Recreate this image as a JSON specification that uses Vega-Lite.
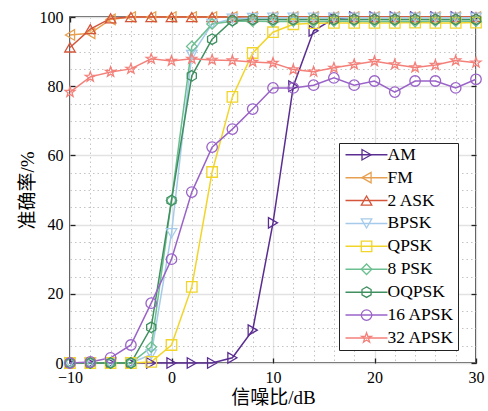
{
  "$schema": "https://vega.github.io/schema/vega-lite/v6.json",
  "width": 406,
  "height": 346,
  "autosize": {"type": "none"},
  "padding": {"left": 70, "top": 17, "right": 12, "bottom": 48},
  "background": "white",
  "config": {
    "font": "Liberation Serif, Noto Sans CJK SC",
    "view": {"stroke": "#222222", "strokeWidth": 1.6},
    "axis": {
      "labelFont": "Liberation Serif, Noto Sans CJK SC",
      "titleFont": "Liberation Serif, Noto Sans CJK SC",
      "labelFontSize": 16,
      "titleFontSize": 19,
      "titleFontWeight": "normal",
      "labelColor": "black",
      "titleColor": "black",
      "labelFlush": false
    },
    "legend": {
      "labelFont": "Liberation Serif, Noto Sans CJK SC",
      "labelFontSize": 17.5,
      "labelColor": "black"
    }
  },
  "data": {
    "values": [
      {"s":"AM","x":-10,"y":0},{"s":"AM","x":-8,"y":0},{"s":"AM","x":-6,"y":0},{"s":"AM","x":-4,"y":0},{"s":"AM","x":-2,"y":0},{"s":"AM","x":0,"y":0},{"s":"AM","x":2,"y":0},{"s":"AM","x":4,"y":0},{"s":"AM","x":6,"y":1.5},{"s":"AM","x":8,"y":9.5},{"s":"AM","x":10,"y":40.5},{"s":"AM","x":12,"y":80},{"s":"AM","x":14,"y":96},{"s":"AM","x":16,"y":99.5},{"s":"AM","x":18,"y":100},{"s":"AM","x":20,"y":100},{"s":"AM","x":22,"y":100},{"s":"AM","x":24,"y":100},{"s":"AM","x":26,"y":100},{"s":"AM","x":28,"y":100},{"s":"AM","x":30,"y":100},
      {"s":"FM","x":-10,"y":94.8},{"s":"FM","x":-8,"y":95.3},{"s":"FM","x":-6,"y":99.3},{"s":"FM","x":-4,"y":100},{"s":"FM","x":-2,"y":100},{"s":"FM","x":0,"y":100},{"s":"FM","x":2,"y":100},{"s":"FM","x":4,"y":100},{"s":"FM","x":6,"y":100},{"s":"FM","x":8,"y":100},{"s":"FM","x":10,"y":100},{"s":"FM","x":12,"y":100},{"s":"FM","x":14,"y":100},{"s":"FM","x":16,"y":100},{"s":"FM","x":18,"y":100},{"s":"FM","x":20,"y":100},{"s":"FM","x":22,"y":100},{"s":"FM","x":24,"y":100},{"s":"FM","x":26,"y":100},{"s":"FM","x":28,"y":100},{"s":"FM","x":30,"y":100},
      {"s":"2 ASK","x":-10,"y":91.2},{"s":"2 ASK","x":-8,"y":96.5},{"s":"2 ASK","x":-6,"y":99.6},{"s":"2 ASK","x":-4,"y":100},{"s":"2 ASK","x":-2,"y":100},{"s":"2 ASK","x":0,"y":100},{"s":"2 ASK","x":2,"y":100},{"s":"2 ASK","x":4,"y":100},{"s":"2 ASK","x":6,"y":100},{"s":"2 ASK","x":8,"y":100},{"s":"2 ASK","x":10,"y":100},{"s":"2 ASK","x":12,"y":100},{"s":"2 ASK","x":14,"y":100},{"s":"2 ASK","x":16,"y":100},{"s":"2 ASK","x":18,"y":100},{"s":"2 ASK","x":20,"y":100},{"s":"2 ASK","x":22,"y":100},{"s":"2 ASK","x":24,"y":100},{"s":"2 ASK","x":26,"y":100},{"s":"2 ASK","x":28,"y":100},{"s":"2 ASK","x":30,"y":100},
      {"s":"BPSK","x":-10,"y":0},{"s":"BPSK","x":-8,"y":0},{"s":"BPSK","x":-6,"y":0},{"s":"BPSK","x":-4,"y":0},{"s":"BPSK","x":-2,"y":2.5},{"s":"BPSK","x":0,"y":37.5},{"s":"BPSK","x":2,"y":89},{"s":"BPSK","x":4,"y":98},{"s":"BPSK","x":6,"y":99.5},{"s":"BPSK","x":8,"y":99.7},{"s":"BPSK","x":10,"y":99.8},{"s":"BPSK","x":12,"y":99.8},{"s":"BPSK","x":14,"y":99.8},{"s":"BPSK","x":16,"y":99.8},{"s":"BPSK","x":18,"y":99.8},{"s":"BPSK","x":20,"y":99.8},{"s":"BPSK","x":22,"y":99.8},{"s":"BPSK","x":24,"y":99.8},{"s":"BPSK","x":26,"y":99.8},{"s":"BPSK","x":28,"y":99.8},{"s":"BPSK","x":30,"y":99.8},
      {"s":"QPSK","x":-10,"y":0},{"s":"QPSK","x":-8,"y":0},{"s":"QPSK","x":-6,"y":0},{"s":"QPSK","x":-4,"y":0},{"s":"QPSK","x":-2,"y":0.3},{"s":"QPSK","x":0,"y":5.2},{"s":"QPSK","x":2,"y":22},{"s":"QPSK","x":4,"y":55.2},{"s":"QPSK","x":6,"y":76.9},{"s":"QPSK","x":8,"y":89.6},{"s":"QPSK","x":10,"y":95.6},{"s":"QPSK","x":12,"y":97.9},{"s":"QPSK","x":14,"y":98.2},{"s":"QPSK","x":16,"y":98.3},{"s":"QPSK","x":18,"y":98.3},{"s":"QPSK","x":20,"y":98.3},{"s":"QPSK","x":22,"y":98.3},{"s":"QPSK","x":24,"y":98.4},{"s":"QPSK","x":26,"y":98.3},{"s":"QPSK","x":28,"y":98.3},{"s":"QPSK","x":30,"y":98.4},
      {"s":"8 PSK","x":-10,"y":0},{"s":"8 PSK","x":-8,"y":0},{"s":"8 PSK","x":-6,"y":0},{"s":"8 PSK","x":-4,"y":0},{"s":"8 PSK","x":-2,"y":4.6},{"s":"8 PSK","x":0,"y":47},{"s":"8 PSK","x":2,"y":91.5},{"s":"8 PSK","x":4,"y":98},{"s":"8 PSK","x":6,"y":98.8},{"s":"8 PSK","x":8,"y":98.8},{"s":"8 PSK","x":10,"y":98.7},{"s":"8 PSK","x":12,"y":98.8},{"s":"8 PSK","x":14,"y":98.7},{"s":"8 PSK","x":16,"y":98.8},{"s":"8 PSK","x":18,"y":98.8},{"s":"8 PSK","x":20,"y":98.7},{"s":"8 PSK","x":22,"y":98.8},{"s":"8 PSK","x":24,"y":98.7},{"s":"8 PSK","x":26,"y":98.8},{"s":"8 PSK","x":28,"y":98.8},{"s":"8 PSK","x":30,"y":98.8},
      {"s":"OQPSK","x":-10,"y":0},{"s":"OQPSK","x":-8,"y":0},{"s":"OQPSK","x":-6,"y":0},{"s":"OQPSK","x":-4,"y":0},{"s":"OQPSK","x":-2,"y":10.3},{"s":"OQPSK","x":0,"y":47},{"s":"OQPSK","x":2,"y":83},{"s":"OQPSK","x":4,"y":93.6},{"s":"OQPSK","x":6,"y":99},{"s":"OQPSK","x":8,"y":99.3},{"s":"OQPSK","x":10,"y":99.3},{"s":"OQPSK","x":12,"y":99.3},{"s":"OQPSK","x":14,"y":99.3},{"s":"OQPSK","x":16,"y":99.3},{"s":"OQPSK","x":18,"y":99.3},{"s":"OQPSK","x":20,"y":99.3},{"s":"OQPSK","x":22,"y":99.3},{"s":"OQPSK","x":24,"y":99.3},{"s":"OQPSK","x":26,"y":99.3},{"s":"OQPSK","x":28,"y":99.3},{"s":"OQPSK","x":30,"y":99.3},
      {"s":"16 APSK","x":-10,"y":0},{"s":"16 APSK","x":-8,"y":0.3},{"s":"16 APSK","x":-6,"y":1.5},{"s":"16 APSK","x":-4,"y":5.2},{"s":"16 APSK","x":-2,"y":17.3},{"s":"16 APSK","x":0,"y":30},{"s":"16 APSK","x":2,"y":49.4},{"s":"16 APSK","x":4,"y":62.4},{"s":"16 APSK","x":6,"y":67.6},{"s":"16 APSK","x":8,"y":73.4},{"s":"16 APSK","x":10,"y":79.5},{"s":"16 APSK","x":12,"y":79.5},{"s":"16 APSK","x":14,"y":80.3},{"s":"16 APSK","x":16,"y":82.4},{"s":"16 APSK","x":18,"y":80.3},{"s":"16 APSK","x":20,"y":81.5},{"s":"16 APSK","x":22,"y":78.3},{"s":"16 APSK","x":24,"y":81.5},{"s":"16 APSK","x":26,"y":81.5},{"s":"16 APSK","x":28,"y":79.5},{"s":"16 APSK","x":30,"y":82},
      {"s":"32 APSK","x":-10,"y":78.3},{"s":"32 APSK","x":-8,"y":82.7},{"s":"32 APSK","x":-6,"y":84.1},{"s":"32 APSK","x":-4,"y":85},{"s":"32 APSK","x":-2,"y":87.9},{"s":"32 APSK","x":0,"y":87.3},{"s":"32 APSK","x":2,"y":87.9},{"s":"32 APSK","x":4,"y":87.6},{"s":"32 APSK","x":6,"y":87.4},{"s":"32 APSK","x":8,"y":87},{"s":"32 APSK","x":10,"y":86.7},{"s":"32 APSK","x":12,"y":84.8},{"s":"32 APSK","x":14,"y":84.2},{"s":"32 APSK","x":16,"y":85.3},{"s":"32 APSK","x":18,"y":86.3},{"s":"32 APSK","x":20,"y":87.2},{"s":"32 APSK","x":22,"y":86.3},{"s":"32 APSK","x":24,"y":85.4},{"s":"32 APSK","x":26,"y":86.1},{"s":"32 APSK","x":28,"y":87.4},{"s":"32 APSK","x":30,"y":86.8}
    ]
  },
  "resolve": {"axis": {"x": "independent", "y": "independent"}},
  "layer": [
    {
      "mark": {"type": "line", "strokeWidth": 1.5},
      "encoding": {
        "x": {
          "field": "x", "type": "quantitative",
          "scale": {"domain": [-10, 30], "nice": false, "zero": false},
          "axis": {"orient": "bottom", "values": [-8,-6,-4,-2,2,4,6,8,12,14,16,18,22,24,26,28], "labels": false, "ticks": false, "domain": false, "title": null, "grid": true, "gridColor": "#c4c4c4", "gridDash": [1.5, 3], "gridWidth": 1}
        },
        "y": {
          "field": "y", "type": "quantitative",
          "scale": {"domain": [0, 100], "nice": false},
          "axis": {"orient": "left", "values": [5,10,15,25,30,35,45,50,55,65,70,75,85,90,95], "labels": false, "ticks": false, "domain": false, "title": null, "grid": true, "gridColor": "#c4c4c4", "gridDash": [1.5, 3], "gridWidth": 1}
        },
        "color": {
          "field": "s", "type": "nominal", "sort": null,
          "scale": {"range": ["#5a2d91", "#e8a050", "#d4553a", "#a6cbea", "#f2d52a", "#6cbf90", "#3f8f60", "#9a63c8", "#f4807a"]},
          "legend": {"title": null, "orient": "none", "legendX": 269, "legendY": 126, "padding": 3, "symbolType": "M-1,0L7,0", "symbolSize": 110, "symbolStrokeWidth": 1.5, "symbolFillColor": "transparent", "labelOffset": 28, "rowPadding": 3.9, "strokeColor": "#222222", "fillColor": "white", "zindex": 0}
        }
      }
    },
    {
      "mark": {"type": "point", "filled": false, "size": 110, "strokeWidth": 1.3, "opacity": 1},
      "encoding": {
        "x": {
          "field": "x", "type": "quantitative",
          "axis": {"orient": "bottom", "values": [-10, 0, 10, 20, 30], "grid": true, "gridColor": "#e2e2e2", "gridWidth": 1.3, "domain": false, "ticks": true, "tickSize": -5, "tickColor": "#222222", "tickWidth": 1.3, "labelPadding": 11, "title": "信噪比/dB", "titlePadding": 3, "labelExpr": "replace(datum.label, '-', '−')"}
        },
        "y": {
          "field": "y", "type": "quantitative",
          "axis": {"orient": "left", "values": [0, 20, 40, 60, 80, 100], "grid": true, "gridColor": "#e2e2e2", "gridWidth": 1.3, "domain": false, "ticks": true, "tickSize": -5, "tickColor": "#222222", "tickWidth": 1.3, "labelPadding": 12, "title": "准确率/%", "titlePadding": 2}
        },
        "stroke": {
          "field": "s", "type": "nominal",
          "scale": {"domain": ["AM", "FM", "2 ASK", "BPSK", "QPSK", "8 PSK", "OQPSK", "16 APSK", "32 APSK"], "range": ["#5a2d91", "#e8a050", "#d4553a", "#a6cbea", "#f2d52a", "#6cbf90", "#3f8f60", "#9a63c8", "#f4807a"]}
        },
        "shape": {
          "field": "s", "type": "nominal",
          "scale": {"domain": ["AM", "FM", "2 ASK", "BPSK", "QPSK", "8 PSK", "OQPSK", "16 APSK", "32 APSK"], "range": ["triangle-right", "triangle-left", "triangle-up", "triangle-down", "square", "diamond", "M0,-1L0.866,-0.5L0.866,0.5L0,1L-0.866,0.5L-0.866,-0.5Z", "circle", "M0,-1L0.235,-0.324L0.951,-0.309L0.38,0.124L0.588,0.809L0,0.4L-0.588,0.809L-0.38,0.124L-0.951,-0.309L-0.235,-0.324Z"]},
          "legend": {"title": null, "orient": "none", "legendX": 284.8, "legendY": 126, "padding": 3, "symbolSize": 110, "symbolStrokeWidth": 1.3, "symbolFillColor": "transparent", "labelExpr": "''", "labelOffset": 28, "rowPadding": 3.9, "zindex": 1}
        }
      }
    },
    {
      "mark": {"type": "point", "opacity": 0},
      "encoding": {
        "x": {"field": "x", "type": "quantitative", "axis": {"orient": "top", "values": [-10, 0, 10, 20, 30], "labels": false, "grid": false, "domain": false, "ticks": true, "tickSize": -5, "tickColor": "#222222", "tickWidth": 1.3, "title": null}},
        "y": {"field": "y", "type": "quantitative", "axis": {"orient": "right", "values": [0, 20, 40, 60, 80, 100], "labels": false, "grid": false, "domain": false, "ticks": true, "tickSize": -5, "tickColor": "#222222", "tickWidth": 1.3, "title": null}}
      }
    }
  ]
}
